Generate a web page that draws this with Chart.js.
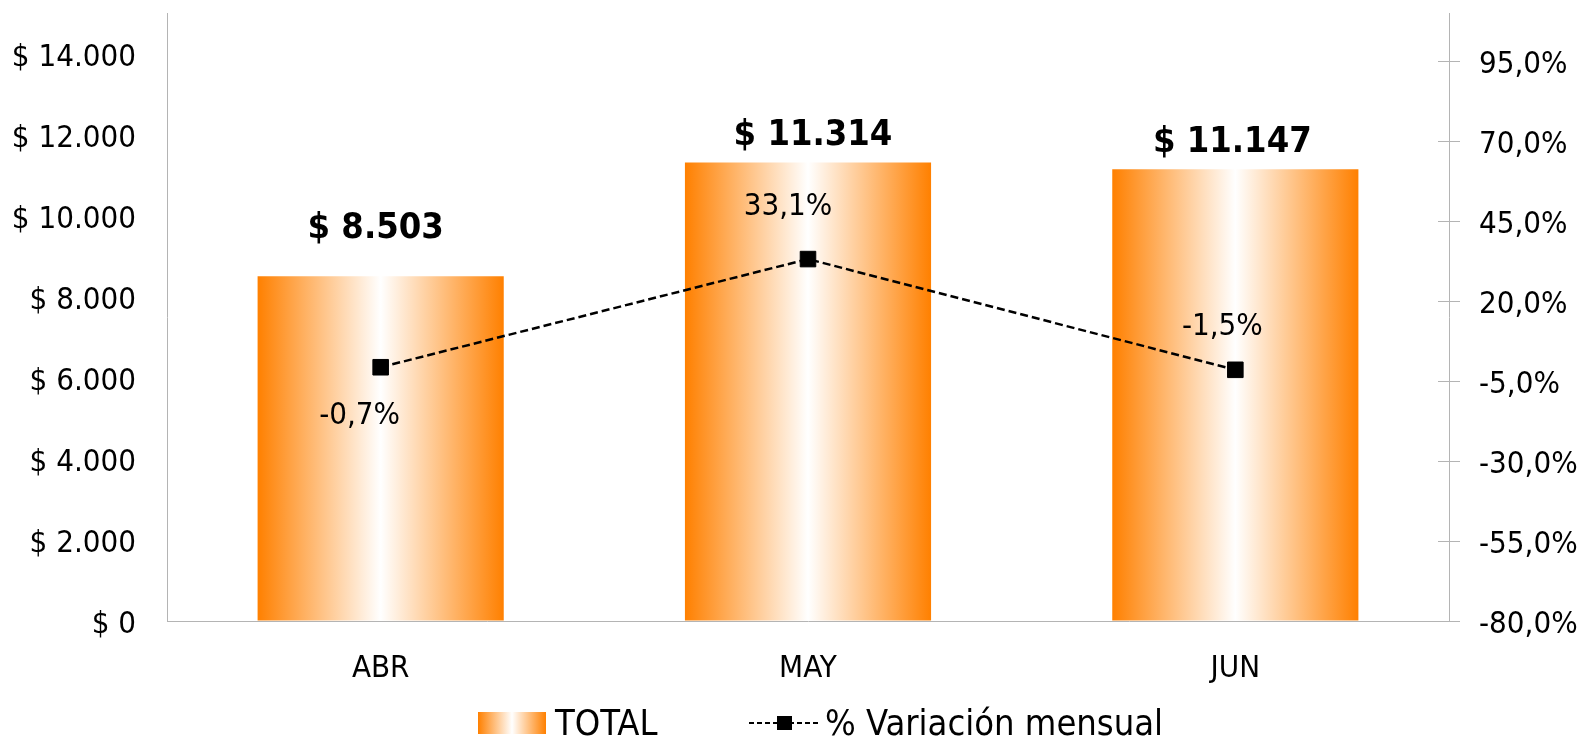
<!DOCTYPE html>
<html>
<head>
<meta charset="utf-8">
<script src="https://cdn.jsdelivr.net/npm/chart.js@4.4.1/dist/chart.umd.min.js"></script>
<style>
  html, body { margin: 0; padding: 0; background: #fff; }
  #wrap { width: 1587px; height: 738px; }
</style>
</head>
<body>
<div id="wrap"><canvas id="myChart"></canvas></div>
<script>
const meses = ['ABR', 'MAY', 'JUN'];
const totales = [8503, 11314, 11147];
const variacion = [-0.7, 33.1, -1.5];
const ticksMonto = [0, 2000, 4000, 6000, 8000, 10000, 12000, 14000];
const ticksPct = [-80, -55, -30, -5, 20, 45, 70, 95];

const FONT = '"DejaVu Sans Condensed", "DejaVu Sans", sans-serif';
const NARANJA = '#ff8000';
const GRIS = '#b4b4b4';

function miles(v) {
    return v.toString().replace(/\B(?=(\d{3})+(?!\d))/g, '.');
}
function pct(v) {
    return v.toFixed(1).replace('.', ',') + '%';
}
function degradado(ctx, x0, x1) {
    const g = ctx.createLinearGradient(x0, 0, x1, 0);
    g.addColorStop(0, NARANJA);
    g.addColorStop(0.5, '#ffffff');
    g.addColorStop(1, NARANJA);
    return g;
}
// sin relleno extra alrededor de los ejes
function sinRelleno(s) {
    s.paddingTop = 0;
    s.paddingBottom = 0;
    s.paddingLeft = 0;
    s.paddingRight = 0;
}

// relleno de barra naranja -> blanco -> naranja
function rellenoBarra(context) {
    const chart = context.chart;
    if (context.type !== 'data' || !chart.chartArea || !chart.scales.x) return NARANJA;
    const xs = chart.scales.x;
    const ancho = xs.width / meses.length * 0.576;
    const cx = xs.getPixelForValue(context.dataIndex);
    if (!isFinite(cx) || !isFinite(ancho) || ancho <= 0) return NARANJA;
    return degradado(chart.ctx, cx - ancho / 2, cx + ancho / 2);
}

// etiquetas de datos (desplazamientos como en el original)
const etiquetas = {
    id: 'etiquetas',
    afterDatasetsDraw(chart) {
        const ctx = chart.ctx;
        ctx.save();
        ctx.fillStyle = '#000';
        ctx.textAlign = 'center';
        ctx.textBaseline = 'middle';

        const barras = chart.getDatasetMeta(0).data;
        const despBarra = [[-5, -48], [5, -27], [-3, -27]];
        ctx.font = 'bold 36px ' + FONT;
        barras.forEach((b, i) => {
            ctx.fillText('$ ' + miles(totales[i]), b.x + despBarra[i][0], b.y + despBarra[i][1]);
        });

        const puntos = chart.getDatasetMeta(1).data;
        const despPunto = [[-21, 49], [-20, -52], [-13, -43]];
        ctx.font = '31px ' + FONT;
        puntos.forEach((p, i) => {
            ctx.fillText(pct(variacion[i]), p.x + despPunto[i][0], p.y + despPunto[i][1]);
        });
        ctx.restore();
    }
};

// marcas cruzadas del eje derecho
const marcasDerecha = {
    id: 'marcasDerecha',
    afterDraw(chart) {
        const s = chart.scales.y1;
        const ctx = chart.ctx;
        ctx.save();
        ctx.strokeStyle = GRIS;
        ctx.lineWidth = 1;
        s.ticks.forEach(t => {
            const y = Math.round(s.getPixelForValue(t.value)) + 0.5;
            ctx.beginPath();
            ctx.moveTo(s.left - 11, y);
            ctx.lineTo(s.left + 11, y);
            ctx.stroke();
        });
        ctx.restore();
    }
};

// leyenda inferior
const leyenda = {
    id: 'leyenda',
    afterDraw(chart) {
        const ctx = chart.ctx;
        const ds = chart.data.datasets;
        const cy = 723;
        ctx.save();
        ctx.fillStyle = degradado(ctx, 478, 546);
        ctx.fillRect(478, 712, 68, 22);

        ctx.strokeStyle = '#000';
        ctx.lineWidth = 2;
        ctx.setLineDash([5, 3]);
        ctx.beginPath();
        ctx.moveTo(749, cy);
        ctx.lineTo(818, cy);
        ctx.stroke();
        ctx.setLineDash([]);
        ctx.fillStyle = '#000';
        ctx.fillRect(777, cy - 7, 15, 14);

        ctx.font = '36px ' + FONT;
        ctx.textAlign = 'left';
        ctx.textBaseline = 'middle';
        ctx.fillText(ds[0].label, 555, cy + 3);
        ctx.fillText(ds[1].label, 825, cy + 3);
        ctx.restore();
    }
};

new Chart(document.getElementById('myChart'), {
    data: {
        labels: meses,
        datasets: [{
            type: 'bar',
            label: 'TOTAL',
            data: totales,
            backgroundColor: rellenoBarra,
            borderWidth: 0,
            categoryPercentage: 1,
            barPercentage: 0.576,
            yAxisID: 'y',
            order: 1
        }, {
            type: 'line',
            label: '% Variación mensual',
            data: variacion,
            borderColor: '#000',
            borderWidth: 2.5,
            borderDash: [8, 4],
            pointStyle: 'rect',
            pointRadius: 11,
            pointBackgroundColor: '#000',
            pointBorderColor: '#000',
            pointBorderWidth: 1,
            tension: 0,
            yAxisID: 'y1',
            order: 0
        }]
    },
    options: {
        responsive: true,
        maintainAspectRatio: false,
        animation: false,
        layout: { padding: { top: 13, left: 0, right: 0, bottom: 0 } },
        plugins: {
            legend: { display: false },
            tooltip: { enabled: false }
        },
        scales: {
            x: {
                position: 'bottom',
                grid: { display: true, drawOnChartArea: false, drawTicks: false },
                border: { display: true, color: GRIS, width: 1 },
                ticks: { color: '#000', font: { family: FONT, size: 31 }, padding: 29 },
                afterFit(s) { s.height = 117; sinRelleno(s); }
            },
            y: {
                position: 'left',
                min: 0,
                max: 15000,
                grid: { display: true, drawOnChartArea: false, drawTicks: false },
                border: { display: true, color: GRIS, width: 1 },
                afterBuildTicks(s) { s.ticks = ticksMonto.map(v => ({ value: v })); },
                ticks: {
                    color: '#000',
                    font: { family: FONT, size: 31 },
                    padding: 31,
                    labelOffset: 4,
                    callback: v => '$ ' + miles(v)
                },
                afterFit(s) { s.width = 167; sinRelleno(s); }
            },
            y1: {
                position: 'right',
                min: -80,
                max: 110,
                grid: { display: true, drawOnChartArea: false, drawTicks: false },
                border: { display: true, color: GRIS, width: 1 },
                afterBuildTicks(s) { s.ticks = ticksPct.map(v => ({ value: v })); },
                ticks: {
                    color: '#000',
                    font: { family: FONT, size: 31 },
                    padding: 30,
                    labelOffset: 4,
                    callback: v => pct(v)
                },
                afterFit(s) { s.width = 138; sinRelleno(s); }
            }
        }
    },
    plugins: [etiquetas, marcasDerecha, leyenda]
});
</script>
</body>
</html>
